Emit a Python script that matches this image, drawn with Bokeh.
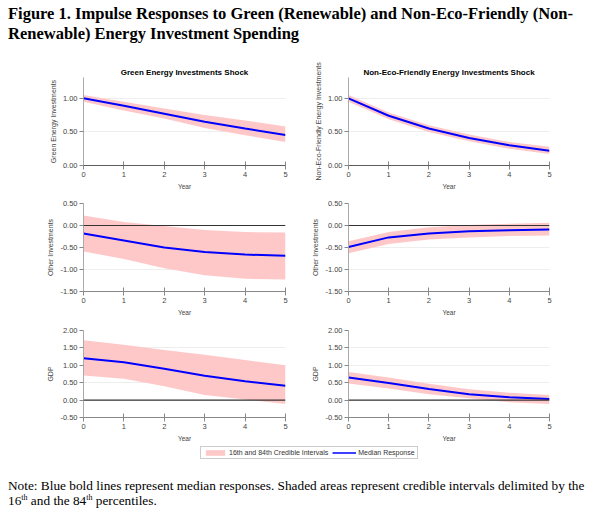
from bokeh.plotting import figure
from bokeh.layouts import column, row
from bokeh.models import (Range1d, FixedTicker, PrintfTickFormatter, Span, Div,
                          Legend, LegendItem)
from bokeh.embed import file_html
from bokeh.resources import INLINE

# ---------------- data ----------------
years = [0, 1, 2, 3, 4, 5]
year_ticks = [0, 1, 2, 3, 4, 5]

# Green energy investments shock
g_green_med = [1.00, 0.89, 0.77, 0.65, 0.55, 0.455]
g_green_lo = [0.95, 0.82, 0.70, 0.56, 0.45, 0.35]
g_green_hi = [1.05, 0.95, 0.85, 0.75, 0.67, 0.58]

g_other_med = [-0.18, -0.34, -0.50, -0.60, -0.66, -0.69]
g_other_lo = [-0.59, -0.76, -0.97, -1.13, -1.21, -1.23]
g_other_hi = [0.23, 0.08, -0.01, -0.10, -0.15, -0.16]

g_gdp_med = [1.20, 1.09, 0.90, 0.70, 0.545, 0.41]
g_gdp_lo = [0.71, 0.61, 0.40, 0.15, 0.02, -0.11]
g_gdp_hi = [1.72, 1.59, 1.44, 1.30, 1.15, 1.00]

# Non-eco-friendly energy investments shock
n_nonco_med = [1.00, 0.74, 0.55, 0.41, 0.30, 0.22]
n_nonco_lo = [0.95, 0.69, 0.50, 0.36, 0.25, 0.17]
n_nonco_hi = [1.05, 0.79, 0.60, 0.46, 0.35, 0.28]

n_other_med = [-0.49, -0.27, -0.18, -0.13, -0.11, -0.09]
n_other_lo = [-0.63, -0.42, -0.32, -0.27, -0.24, -0.23]
n_other_hi = [-0.36, -0.15, -0.04, 0.01, 0.04, 0.06]

n_gdp_med = [0.65, 0.49, 0.32, 0.17, 0.085, 0.03]
n_gdp_lo = [0.48, 0.33, 0.17, 0.05, -0.06, -0.11]
n_gdp_hi = [0.81, 0.65, 0.47, 0.31, 0.21, 0.15]

ticks_top = [0.0, 0.5, 1.0]
ticks_mid = [-1.5, -1.0, -0.5, 0.0, 0.5]
ticks_bot = [-0.5, 0.0, 0.5, 1.0, 1.5, 2.0]

col_titles = ["Green Energy Investments Shock", "Non-Eco-Friendly Energy Investments Shock"]

BAND = "#ffc8c8"
LINE = "#0000ff"
SANS = "Liberation Sans"


def panel(width, left, right, top, frame_h, bottom, yr, yticks, ylabel,
          med, lo, hi, title=None):
    p = figure(width=width, height=top + frame_h + bottom,
               output_backend="svg", toolbar_location=None,
               x_range=Range1d(0, 5), y_range=Range1d(*yr),
               min_border_left=left, min_border_right=right,
               min_border_top=top, min_border_bottom=bottom,
               title=title)
    p.outline_line_color = None
    p.background_fill_color = "white"
    p.border_fill_color = "white"
    if title is not None:
        p.title.text_font = SANS
        p.title.text_font_size = "8px"
        p.title.text_font_style = "bold"
        p.title.align = "center"
        p.title.text_color = "#000000"
        p.title.standoff = 2
    p.varea(x=years, y1=lo, y2=hi, fill_color=BAND, fill_alpha=1.0)
    p.line(x=years, y=med, line_color=LINE, line_width=2)
    p.add_layout(Span(location=0, dimension="width", line_color="#333333",
                      line_width=1.2))

    p.xgrid.visible = False
    p.ygrid.grid_line_color = "#eeeeee"
    p.ygrid.ticker = FixedTicker(ticks=yticks)

    xa = p.xaxis[0]
    xa.ticker = FixedTicker(ticks=year_ticks)
    xa.axis_line_color = "#888888"
    xa.major_tick_line_color = "#888888"
    xa.major_tick_in = 4
    xa.major_tick_out = 4
    xa.minor_tick_line_color = None
    xa.major_label_text_font = SANS
    xa.major_label_text_font_size = "7.5px"
    xa.major_label_text_color = "#444444"
    xa.major_label_standoff = 2
    xa.axis_label = "Year"
    xa.axis_label_text_font = SANS
    xa.axis_label_text_font_size = "6.5px"
    xa.axis_label_text_font_style = "normal"
    xa.axis_label_text_color = "#444444"
    xa.axis_label_standoff = 3

    ya = p.yaxis[0]
    ya.ticker = FixedTicker(ticks=yticks)
    ya.formatter = PrintfTickFormatter(format="%.2f")
    ya.axis_line_color = "#aaaaaa"
    ya.major_tick_line_color = "#888888"
    ya.major_tick_in = 0
    ya.major_tick_out = 4
    ya.minor_tick_line_color = None
    ya.major_label_text_font = SANS
    ya.major_label_text_font_size = "7.5px"
    ya.major_label_text_color = "#444444"
    ya.major_label_standoff = 2
    ya.axis_label = ylabel
    ya.axis_label_text_font = SANS
    ya.axis_label_text_font_size = "7px"
    ya.axis_label_text_font_style = "normal"
    ya.axis_label_text_color = "#444444"
    ya.axis_label_standoff = 3
    return p


LW, RW = 287, 288
LL, LR = 75, 10
RL, RR = 53, 34

p11 = panel(LW, LL, LR, 30, 88, 28, (0, 1.31), ticks_top, "Green Energy Investments",
            g_green_med, g_green_lo, g_green_hi, title=col_titles[0])
p12 = panel(RW, RL, RR, 30, 88, 28, (0, 1.31), ticks_top, "Non-Eco-Friendly Energy Investments",
            n_nonco_med, n_nonco_lo, n_nonco_hi, title=col_titles[1])
p21 = panel(LW, LL, LR, 10, 88, 28, (-1.5, 0.5), ticks_mid, "Other Investments",
            g_other_med, g_other_lo, g_other_hi)
p22 = panel(RW, RL, RR, 10, 88, 28, (-1.5, 0.5), ticks_mid, "Other Investments",
            n_other_med, n_other_lo, n_other_hi)
p31 = panel(LW, LL, LR, 11, 87, 28, (-0.5, 2.0), ticks_bot, "GDP",
            g_gdp_med, g_gdp_lo, g_gdp_hi)
p32 = panel(RW, RL, RR, 11, 87, 28, (-0.5, 2.0), ticks_bot, "GDP",
            n_gdp_med, n_gdp_lo, n_gdp_hi)

# legend strip
lf = figure(width=575, height=25, output_backend="svg", toolbar_location=None,
            x_axis_location=None, y_axis_location=None, min_border=0)
lf.outline_line_color = None
lf.grid.visible = False
r_band = lf.varea(x=years, y1=g_gdp_lo, y2=g_gdp_hi, fill_color=BAND, fill_alpha=1.0)
r_line = lf.line(x=years, y=g_gdp_med, line_color=LINE, line_width=1.5)
r_band.visible = False
r_line.visible = False
legend = Legend(items=[LegendItem(label="16th and 84th Credible Intervals", renderers=[r_band]),
                       LegendItem(label="Median Response", renderers=[r_line])],
                location=(192, 11), orientation="horizontal",
                glyph_width=24, glyph_height=7, label_height=7, label_standoff=2,
                spacing=4, padding=2, margin=0,
                label_text_font=SANS, label_text_font_size="7px", label_text_color="#333333",
                border_line_color="#999999", border_line_width=1,
                background_fill_color="white", background_fill_alpha=1.0)
lf.add_layout(legend)

title_html = ('<div style="font-family:\'Liberation Serif\'; font-weight:bold; font-size:16.5px; '
              'line-height:20px; white-space:nowrap; color:#000;">'
              'Figure 1. Impulse Responses to Green (Renewable) and Non-Eco-Friendly (Non-<br>'
              'Renewable) Energy Investment Spending</div>')
title_div = Div(text=title_html, width=575, height=43, margin=(0, 0, 0, 0))

note_html = ('<div style="font-family:\'Liberation Serif\'; font-size:13.3px; line-height:15px; '
             'white-space:nowrap; color:#000; padding-top:8px;">'
             'Note: Blue bold lines represent median responses. Shaded areas represent credible '
             'intervals delimited by the<br>'
             '16<sup style="font-size:8px; line-height:0;">th</sup> and the '
             '84<sup style="font-size:8px; line-height:0;">th</sup> percentiles.</div>')
note_div = Div(text=note_html, width=575, height=42, margin=(0, 0, 0, 0))

layout = column(title_div,
                row(p11, p12, spacing=0),
                row(p21, p22, spacing=0),
                row(p31, p32, spacing=0),
                lf, note_div, spacing=0, margin=(4, 8, 4, 8))

open("out.html", "w").write(file_html(layout, INLINE))
